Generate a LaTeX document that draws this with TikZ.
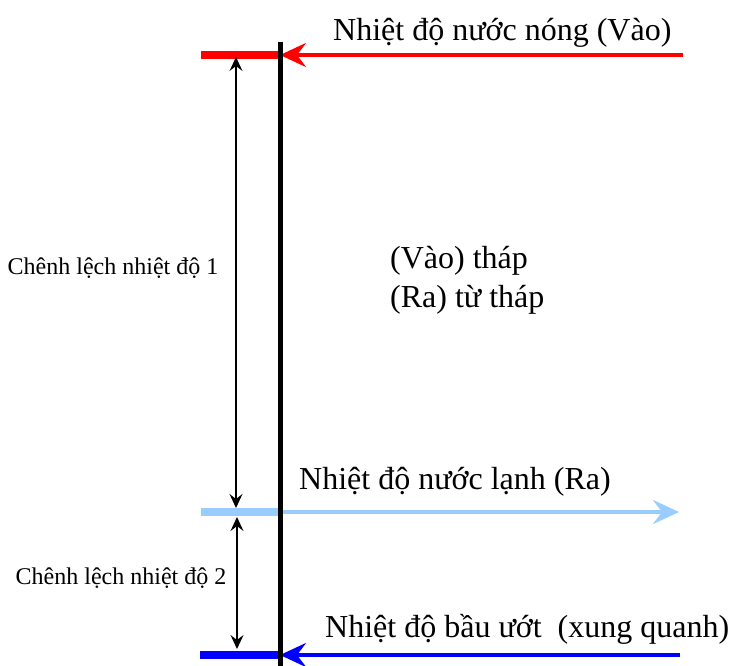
\documentclass[tikz,border=0pt]{standalone}
\usepackage{fontspec}
\setmainfont{Liberation Serif}
\usetikzlibrary{arrows.meta}
\definecolor{hotred}{RGB}{255,0,0}
\definecolor{coldblue}{RGB}{153,204,255}
\definecolor{wetblue}{RGB}{0,0,255}
\tikzset{
  bigtext/.style={anchor=base west, inner sep=0pt, font=\fontsize{32}{36}\selectfont},
  smalltext/.style={inner sep=0pt, font=\fontsize{24}{28}\selectfont},
  stub/.style={line width=8pt},
  flow/.style={line width=3.5pt, -{Stealth[length=26pt, width=24pt, inset=9pt]}},
  gap/.style={line width=1.3pt, {Stealth[length=14pt, width=13pt, inset=5pt]}-{Stealth[length=14pt, width=13pt, inset=5pt]}},
}
\begin{document}
\begin{tikzpicture}[x=1pt, y=-1pt]
  \useasboundingbox (0,0) rectangle (733,666);
  % reference points
  \coordinate (hotL) at (201,55);
  \coordinate (hotW) at (280,55);
  \coordinate (hotR) at (683,55);
  \coordinate (coldL) at (201,512);
  \coordinate (coldW) at (280,512);
  \coordinate (coldR) at (679,512);
  \coordinate (wetL) at (200,655);
  \coordinate (wetW) at (280,655);
  \coordinate (wetR) at (680,655);
  \coordinate (wallT) at (280,42);
  \coordinate (wallB) at (280,666);
  % short thick level marks
  \draw[stub, hotred] (hotL) -- (hotW);
  \draw[stub, coldblue] (coldL) -- (coldW);
  \draw[stub, wetblue] (wetL) -- (wetW);
  % water flows
  \draw[flow, hotred] (hotR) -- (hotW);
  \draw[flow, coldblue] (coldW) -- (coldR);
  \draw[flow, wetblue] (wetR) -- (wetW);
  % tower wall
  \draw[line width=5pt] (wallT) -- (wallB);
  % temperature differences
  \coordinate (d1a) at (236,57);
  \coordinate (d1b) at (236,508);
  \coordinate (d2a) at (237,517);
  \coordinate (d2b) at (237,649);
  \draw[gap] (d1a) -- (d1b);
  \draw[gap] (d2a) -- (d2b);
  % labels
  \node[bigtext] (hotlbl) at (333,41) {Nhiệt độ nước nóng (Vào)};
  \node[bigtext] (coldlbl) at (299,489) {Nhiệt độ nước lạnh (Ra)};
  \node[bigtext] (wetlbl) at (325,637) {Nhiệt độ bầu ướt\ \ (xung quanh)};
  \node[bigtext] (inlbl) at (390,268) {(Vào) tháp};
  \node[bigtext] (outlbl) at (390,307) {(Ra) từ tháp};
  \node[smalltext] (d1lbl) at (113,268) {Chênh lệch nhiệt độ 1};
  \node[smalltext] (d2lbl) at (121,578) {Chênh lệch nhiệt độ 2};
\end{tikzpicture}
\end{document}
